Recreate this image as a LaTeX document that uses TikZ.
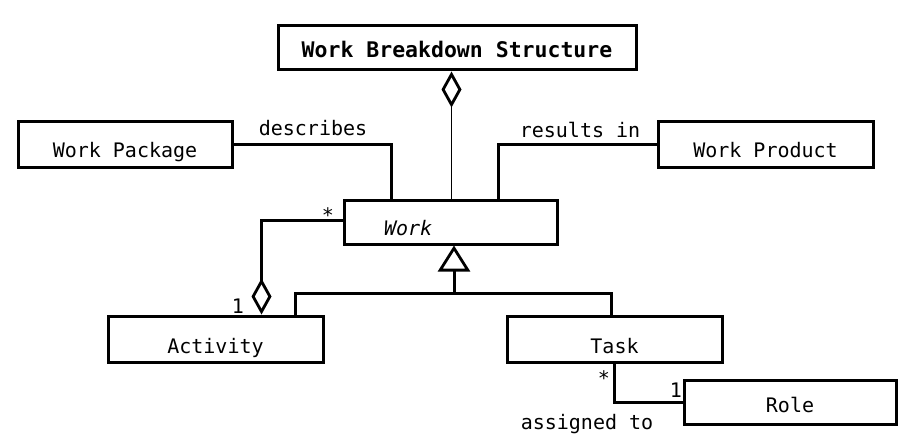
\documentclass[tikz,border=0pt]{standalone}
\usepackage{fontspec}
\setmonofont{DejaVu Sans Mono}
\usetikzlibrary{arrows.meta}
\begin{document}
\begin{tikzpicture}[x=1pt,y=1pt,
  every node/.style={font=\ttfamily\fontsize{20}{22}\selectfont},
  cls/.style={draw, line width=3pt, rectangle, inner sep=0pt, text height=26pt, text depth=0pt},
  conn/.style={line width=3pt},
  agg/.style={-{Diamond[open,length=36pt,width=20pt,line width=2.8pt]}},
  inh/.style={-{Triangle[open,length=26pt,width=32pt,line width=2.8pt]}},
  lbl/.style={inner sep=0pt, anchor=base}]
\useasboundingbox (0,0) rectangle (916,-444);
\node[cls, minimum width=358pt, minimum height=44pt, text height=20pt, font=\ttfamily\bfseries\fontsize{21.5}{24}\selectfont] (wbs) at (457,-48) {Work Breakdown Structure};
\node[cls, minimum width=214pt, minimum height=46pt] (wp) at (125,-144) {Work Package};
\node[cls, minimum width=215pt, minimum height=46pt] (wprod) at (765.5,-144) {Work Product};
\node[cls, minimum height=44pt, inner xsep=40pt, text width=133pt, align=left] (work) at (450.5,-222) {\itshape Work};
\node[cls, minimum width=215pt, minimum height=46pt, text height=28pt] (act) at (215.5,-339) {Activity};
\node[cls, minimum width=215pt, minimum height=46pt, text height=28pt] (task) at (614.5,-339) {Task};
\node[cls, minimum width=212pt, minimum height=44pt, text height=20pt] (role) at (790,-402) {Role};

\node[lbl] (ldesc) at (313,-135) {describes};
\node[lbl] (lres) at (580,-137) {results in};
\node[lbl] (lass) at (587,-429) {assigned to};
\node[lbl] (m1) at (328,-222) {*};
\node[lbl] (m2) at (238,-313) {1};
\node[lbl] (m3) at (604,-385) {*};
\node[lbl] (m4) at (676,-397) {1};

\draw[line width=1pt, agg] ([xshift=1pt]work.north) -- ([xshift=1pt]work.north |- wbs.south);
\draw[conn] (wp.east) -| ([xshift=-59.5pt]work.north);
\draw[conn] ([xshift=47.5pt]work.north) |- (wprod.west);
\draw[conn, agg] ([yshift=2pt]work.west) -| ([xshift=46pt]act.north);
\coordinate (j) at ([xshift=3.5pt,yshift=-48pt]work.south);
\draw[conn] ([xshift=79.5pt]act.north) |- (j) -| ([xshift=-3.5pt]task.north);
\draw[conn, inh] (j) -- ([xshift=3.5pt]work.south);
\draw[conn] (task.south) |- (role.west);
\end{tikzpicture}
\end{document}
